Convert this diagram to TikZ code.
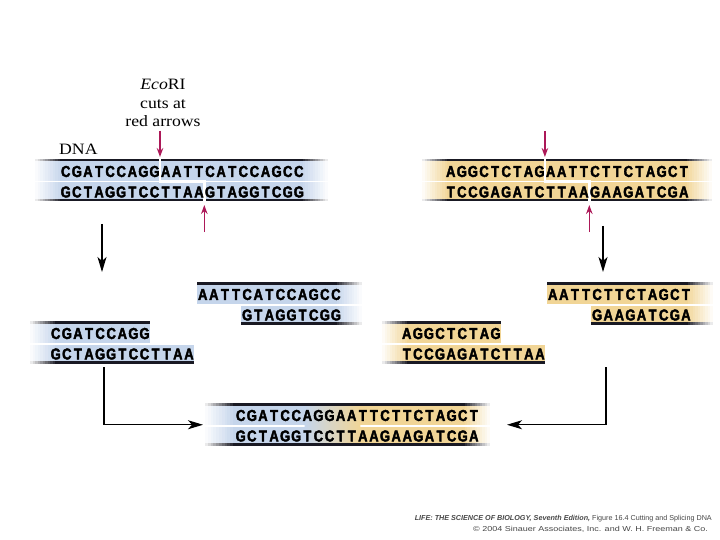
\documentclass[tikz,border=0pt]{standalone}
\usepackage{fontspec}
\setmainfont{Liberation Serif}[FakeStretch=1.12]
\newfontfamily\dnafont{Liberation Sans}[FakeStretch=0.82,BoldFeatures={FakeBold=2.5}]
\newfontfamily\creditfont{Liberation Sans}
\newfontfamily\creditwide{Liberation Sans}[FakeStretch=1.25]
\usetikzlibrary{arrows.meta,positioning}
\definecolor{DnaBlue}{RGB}{197,213,235}
\definecolor{DnaGold}{RGB}{241,213,150}
\definecolor{DnaEdge}{RGB}{25,25,35}
\definecolor{CutRed}{RGB}{172,24,88}
\definecolor{CreditGray}{RGB}{70,70,70}
% one base per fixed-width cell, so both strands line up
\newcommand{\dnaseq}[1]{\dnaloop#1\relax}
\newcommand{\dnaloop}[1]{\ifx\relax#1\else\makebox[11.1pt][c]{#1}\expandafter\dnaloop\fi}
% bar from x #1 to #2, y #3 to #4, colour #5, fading out over #6 (left) and #7 (right)
\newcommand{\fadebar}[7]{%
  \fill[#5] ({#1+#6},#3) rectangle ({#2-#7},#4);
  \ifnum#6>0
    \foreach \s [evaluate=\s as \pct using int(\s*9)] in {1,...,10}
      \fill[#5!\pct!white] ({#1+(\s-1)*#6/10},#3) rectangle ({#1+\s*#6/10+0.3},#4);
  \fi
  \ifnum#7>0
    \foreach \s [evaluate=\s as \pct using int((11-\s)*9)] in {1,...,10}
      \fill[#5!\pct!white] ({#2-#7+(\s-1)*#7/10-0.3},#3) rectangle ({#2-#7+\s*#7/10},#4);
  \fi}
\newcommand{\topstrand}[6]{%
  \fadebar{#1}{#2}{#3}{#3+21}{#4}{#5}{#6}
  \fadebar{#1}{#2}{#3-1}{#3+1.5}{DnaEdge}{#5}{#6}}
\newcommand{\botstrand}[6]{%
  \fadebar{#1}{#2}{#3+22.5}{#3+40}{#4}{#5}{#6}
  \fadebar{#1}{#2}{#3+39}{#3+41.5}{DnaEdge}{#5}{#6}}

\begin{document}
\begin{tikzpicture}[x=1pt,y=-1pt,
  seq/.style={anchor=west,inner sep=0pt,font=\dnafont\bfseries\fontsize{15.8}{16}\selectfont},
  note/.style={inner sep=0pt,align=center,font=\fontsize{15.8}{18.2}\selectfont},
  cutline/.style={white,line width=2.5pt},
  cutarrow/.style={-{Stealth[length=9pt,width=6.5pt]},CutRed,line width=1.5pt},
  flow/.style={-{Stealth[length=15pt,width=9pt,inset=4pt]},line width=1.2pt},
  credit/.style={inner sep=0pt,anchor=east,font=\creditfont\fontsize{7.2}{8}\selectfont,text=CreditGray},
]
\useasboundingbox (0,0) rectangle (720,540);

%% Labels
\node[note] (ecori) at (163,103) {\textit{Eco}RI\\cuts at\\red arrows};
\node[note,anchor=west] (dna) at (59,149) {DNA};

%% Left DNA, cut by EcoRI
\topstrand{35}{328}{160}{DnaBlue}{25}{25}
\botstrand{35}{328}{160}{DnaBlue}{25}{25}
\draw[cutline] (160,158) -- (160,181.75) -- (204.3,181.75) -- (204.3,203);
\node[seq] (tl1) at (60,171.5) {\dnaseq{CGATCCAGGAATTCATCCAGCC}};
\node[seq] (tl2) at (60,192)   {\dnaseq{GCTAGGTCCTTAAGTAGGTCGG}};
\coordinate (cutTLa) at (160,157);
\coordinate (cutTLb) at (204.3,205);
\coordinate (tailTLb) at (204.3,232);
\draw[cutarrow,shorten <=4pt] (ecori.south -| cutTLa) -- (cutTLa);
\draw[cutarrow] (tailTLb) -- (cutTLb);

%% Right DNA, cut by EcoRI
\topstrand{422}{712}{160}{DnaGold}{25}{25}
\botstrand{422}{712}{160}{DnaGold}{25}{25}
\draw[cutline] (544.9,158) -- (544.9,181.75) -- (589.3,181.75) -- (589.3,203);
\node[seq] (tr1) at (445,171.5) {\dnaseq{AGGCTCTAGAATTCTTCTAGCT}};
\node[seq] (tr2) at (445,192)   {\dnaseq{TCCGAGATCTTAAGAAGATCGA}};
\coordinate (tailTRa) at (544.9,131);
\coordinate (cutTRa) at (544.9,157);
\coordinate (tailTRb) at (589.3,232);
\coordinate (cutTRb) at (589.3,205);
\draw[cutarrow] (tailTRa) -- (cutTRa);
\draw[cutarrow] (tailTRb) -- (cutTRb);

%% Cutting
\coordinate (splitL) at (102,224);
\coordinate (fragL) at (102,272);
\coordinate (splitR) at (603,226);
\coordinate (fragR) at (603,272);
\draw[flow] (splitL) -- (fragL);
\draw[flow] (splitR) -- (fragR);

%% Blue fragments with sticky ends
\topstrand{197}{362}{283}{DnaBlue}{0}{25}
\botstrand{241.4}{362}{283}{DnaBlue}{0}{25}
\node[seq] (br1) at (197,294.5) {\dnaseq{AATTCATCCAGCC}};
\node[seq] (br2) at (241.4,315) {\dnaseq{GTAGGTCGG}};
\topstrand{30}{149.9}{322}{DnaBlue}{25}{0}
\botstrand{30}{194.3}{322}{DnaBlue}{25}{0}
\node[seq] (bl1) at (50,333.5) {\dnaseq{CGATCCAGG}};
\node[seq] (bl2) at (50,354)   {\dnaseq{GCTAGGTCCTTAA}};

%% Gold fragments with sticky ends
\topstrand{547}{713}{283}{DnaGold}{0}{25}
\botstrand{591.4}{713}{283}{DnaGold}{0}{25}
\node[seq] (gr1) at (547,294.5) {\dnaseq{AATTCTTCTAGCT}};
\node[seq] (gr2) at (591.4,315) {\dnaseq{GAAGATCGA}};
\topstrand{382}{500.9}{322}{DnaGold}{25}{0}
\botstrand{382}{545.3}{322}{DnaGold}{25}{0}
\node[seq] (gl1) at (401,333.5) {\dnaseq{AGGCTCTAG}};
\node[seq] (gl2) at (401,354)   {\dnaseq{TCCGAGATCTTAA}};

%% Spliced DNA
\fadebar{205}{305}{404}{425}{DnaBlue}{28}{0}
\shade[left color=DnaBlue,right color=DnaGold] (304.7,404) rectangle (360.3,425);
\fadebar{360}{490}{404}{425}{DnaGold}{0}{25}
\fadebar{205}{305}{426.5}{444}{DnaBlue}{28}{0}
\shade[left color=DnaBlue,right color=DnaGold] (304.7,426.5) rectangle (360.3,444);
\fadebar{360}{490}{426.5}{444}{DnaGold}{0}{25}
\fadebar{205}{490}{403}{405.5}{DnaEdge}{28}{25}
\fadebar{205}{490}{443}{445.5}{DnaEdge}{28}{25}
\node[seq] (jn1) at (235,415.5) {\dnaseq{CGATCCAGGAATTCTTCTAGCT}};
\node[seq] (jn2) at (235,436)   {\dnaseq{GCTAGGTCCTTAAGAAGATCGA}};
\coordinate (leftOut) at (104,367);
\coordinate (joinL) at (203,424.75);
\coordinate (rightOut) at (606,367);
\coordinate (joinR) at (507,424.75);
\draw[flow] (leftOut) |- (joinL);
\draw[flow] (rightOut) |- (joinR);

%% Credit line
\node[credit] (credit1) at (712,519) {\textbf{\textit{LIFE: THE SCIENCE OF BIOLOGY, Seventh Edition,}} Figure 16.4 Cutting and Splicing DNA};
\node[credit,font=\creditwide\fontsize{7.2}{8}\selectfont] (credit2) at (708,529.5) {\textcopyright{} 2004 Sinauer Associates, Inc. and W. H. Freeman \& Co.};
\end{tikzpicture}
\end{document}
